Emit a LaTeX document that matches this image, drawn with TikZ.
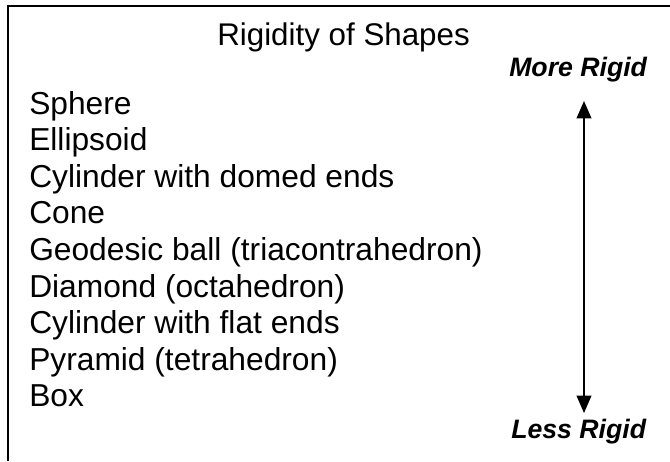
\documentclass[tikz,border=0pt]{standalone}
\usepackage{fontspec}
\setmainfont{Liberation Sans}
\usepackage{tikz}
\usetikzlibrary{
	arrows.meta,
	positioning
}

\begin{document}
\begin{tikzpicture}[x=0.75pt,y=-0.75pt,
		title/.style={anchor=base west,inner sep=0pt,font=\fontsize{23.5}{28}\selectfont},
		shapeitem/.style={anchor=base west,inner sep=0pt,font=\fontsize{23.8}{28}\selectfont},
		rigidlabel/.style={anchor=base west,inner sep=0pt,font=\fontsize{20}{24}\selectfont\bfseries\itshape},
		frame/.style={line width=1.5pt},
		rigidarrow/.style={line width=1.3pt,{Triangle[length=13pt,width=11pt]}-{Triangle[length=13pt,width=11pt]}}]
		
		\useasboundingbox (0,0) rectangle (670,461);
		
		\draw[frame] (8,461) -- (8,6) -- (670,6);
		
		\node[title] (heading) at (217,45) {Rigidity of Shapes};
		
		\foreach \shapename [count=\i] in {Sphere,Ellipsoid,Cylinder with domed ends,Cone,Geodesic ball (triacontrahedron),Diamond (octahedron),Cylinder with flat ends,Pyramid (tetrahedron),Box}
		\node[shapeitem] (item\i) at (29,{114+36.6*(\i-1)}) {\shapename};
		
		\node[rigidlabel] (more) at (509,76) {More Rigid};
		\node[rigidlabel] (less) at (511,438) {Less Rigid};
		
		\coordinate (hi) at (584,101);
		\coordinate (lo) at (584,413);
		\draw[rigidarrow] (hi) -- (lo);
		
	\end{tikzpicture}
\end{document}
